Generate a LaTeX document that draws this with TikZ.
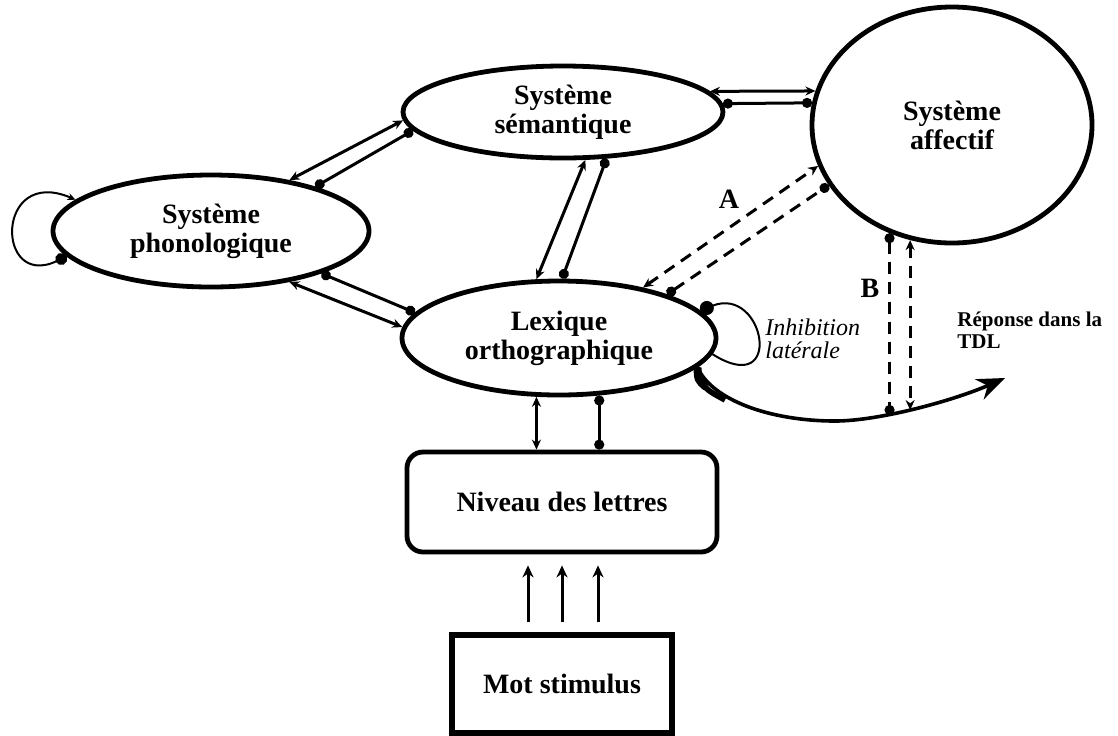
\documentclass[tikz,border=0pt]{standalone}
\usepackage{fontspec}
\setmainfont{Liberation Serif}
\usetikzlibrary{arrows.meta,shapes.geometric}

\begin{document}
\begin{tikzpicture}[x=0.5pt,y=-0.5pt,
    sysbox/.style={draw,ellipse,line width=2.4pt,inner sep=0pt,align=center,font=\fontsize{14}{14.5}\selectfont\bfseries},
    link/.style={line width=1.5pt},
    dlink/.style={line width=1.5pt,dash pattern=on 6pt off 4pt},
    exc/.style={arrows={Stealth[length=5pt,width=4.5pt]-Stealth[length=5pt,width=4.5pt]}},
    inh/.style={arrows={Circle[length=5pt]-Circle[length=5pt]}},
    lbl/.style={inner sep=0pt,font=\fontsize{14}{14.5}\selectfont\bfseries}]
    \useasboundingbox (0,0) rectangle (1118,735);

    \node[sysbox,minimum width=158pt,minimum height=56pt] (phon) at (211,231) {Système\\phonologique};
    \node[sysbox,minimum width=160pt,minimum height=46pt] (sem) at (563,112) {Système\\sémantique};
    \node[sysbox,minimum width=140pt,minimum height=118pt] (aff) at (952,125) {Système\\affectif};
    \node[sysbox,minimum width=157pt,minimum height=57pt] (lex) at (559,338) {Lexique\\orthographique};
    \node[draw,line width=2.4pt,rounded corners=8pt,minimum width=155pt,minimum height=50pt,
        font=\fontsize{14}{14.5}\selectfont\bfseries] (niv) at (562,502) {Niveau des lettres};
    \node[draw,line width=2.6pt,minimum width=110pt,minimum height=49pt,
        font=\fontsize{14}{14.5}\selectfont\bfseries] (stim) at (562,684) {Mot stimulus};

    \draw[link,exc] (phon.33) -- (sem.183);
    \draw[link,inh] (phon.23) -- (sem.187);
    \draw[link,inh] (phon.-21) -- (lex.170.6);
    \draw[link,exc] (phon.-33) -- (lex.176);
    \draw[link,exc] (sem.-65.6) -- (lex.111);
    \draw[link,inh] (sem.-47) -- (lex.87);
    \draw[link,exc] (sem.8) -- (aff.166);
    \draw[link,inh] (sem.3) -- (aff.171);

    \draw[dlink,exc] (lex.31) -- (aff.197);
    \draw[dlink,inh] (lex.22.6) -- (aff.206);
    \node[lbl] (labA) at (729,199) {A};

    \draw[line width=1pt,{Circle[length=6pt]}-{Stealth[length=4pt,width=3.5pt]}]
        (phon.190) .. controls (-5,290) and (-5,165) .. (phon.167);
    \draw[line width=1pt,{Circle[length=7pt]}-]
        (lex.11.6) .. controls (765,285) and (785,400) .. (lex.-6);
    \node[anchor=west,align=left,inner sep=0pt,font=\fontsize{12}{11.5}\selectfont\itshape] (inhib) at (765,339) {Inhibition\\latérale};

    \draw[line width=4pt] (lex.-12.7) .. controls (698,380) .. (706,387);
    \draw[line width=2.8pt] (lex.-12.7) .. controls (703,388) .. (725,400);
    \draw[line width=1.8pt,-{Stealth[length=14pt,width=11pt]}]
        (lex.-12.7) .. controls (712,400) and (770,421) .. (835,421)
        .. controls (880,421) and (955,400) .. (1005,378);
    \coordinate (bdot) at (890,415);
    \coordinate (barr) at (912,410);
    \draw[dlink,inh] (aff.240) -- (aff.240 |- bdot);
    \draw[dlink,exc] (aff.250) -- (aff.250 |- barr);
    \node[lbl] (labB) at (870,288) {B};
    \node[anchor=west,align=left,inner sep=0pt,font=\fontsize{10.5}{11}\selectfont\bfseries] (resp) at (957,330) {Réponse dans la\\TDL};

    \draw[link,exc] (lex.249.6) -- (lex.249.6 |- niv.north);
    \draw[link,inh] (lex.305.2) -- (lex.305.2 |- niv.north);
    \foreach \dx in {-34,0,36}
        \draw[link,-{Stealth[length=6pt,width=5.5pt]}] ([xshift=\dx*0.5pt,yshift=5pt]stim.north) -- ([xshift=\dx*0.5pt,yshift=-5.5pt]niv.south);
\end{tikzpicture}
\end{document}
